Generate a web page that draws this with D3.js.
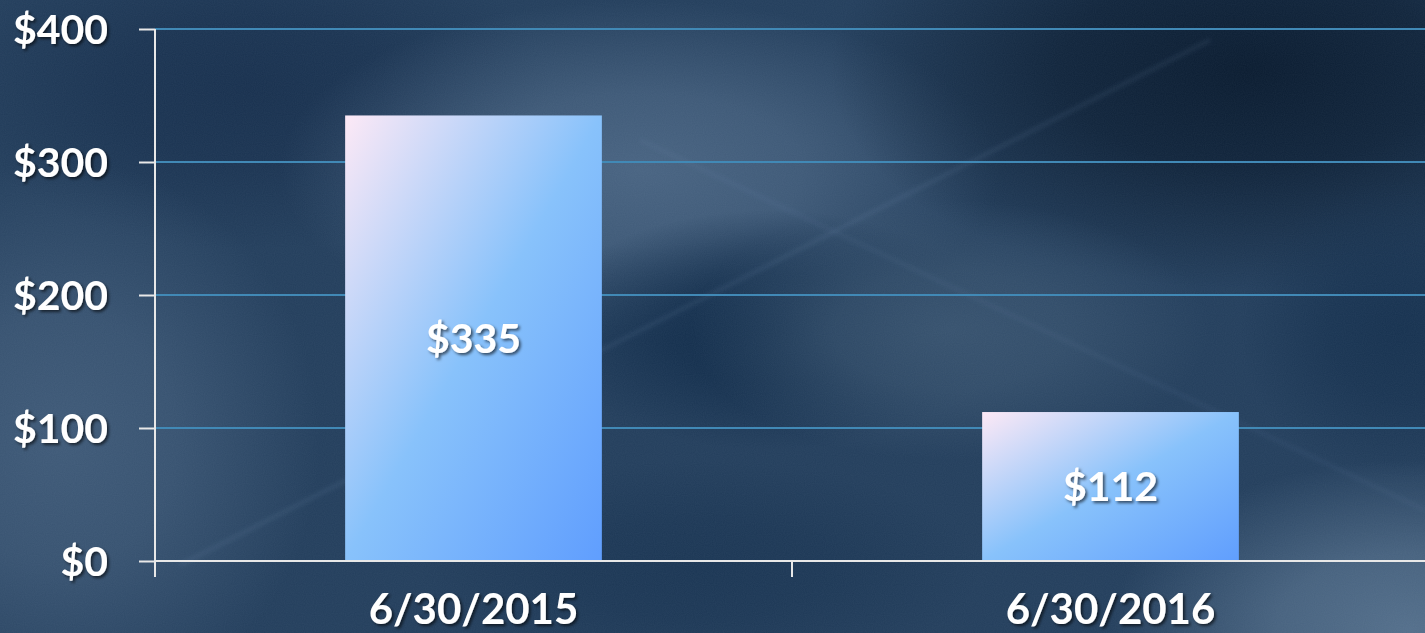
<!DOCTYPE html>
<html>
<head>
<meta charset="utf-8">
<script src="https://cdn.jsdelivr.net/npm/d3@7"></script>
<style>
  html, body { margin: 0; padding: 0; background: #233e5c; overflow: hidden; }
  svg { display: block; }
  text { font-family: Lato, "Open Sans", sans-serif; font-weight: 700; fill: #ffffff; }
</style>
</head>
<body>
<svg id="chart" width="1425" height="633"></svg>
<script>
const categories = ["6/30/2015", "6/30/2016"];
const values = [335, 112];
const yTicks = [0, 100, 200, 300, 400];

const svg = d3.select("#chart");
const width = +svg.attr("width");
const height = +svg.attr("height");
const defs = svg.append("defs");

// soft background: radial-gradient blobs (no blur, so no banding)
const blobData = [
  [250, 90, 300, 160, "#172f4d"],
  [640, 170, 360, 170, "#4a6583"],
  [60, 440, 260, 280, "#405b79"],
  [1250, 70, 420, 220, "#08192d"],
  [770, 330, 230, 120, "#0f2a48"],
  [950, 330, 260, 130, "#38536f"],
  [1400, 330, 160, 150, "#15304e"],
  [1410, 630, 300, 170, "#56718d"],
  [700, 570, 280, 110, "#1a3553"]
];
blobData.forEach((b, i) => {
  const g = defs.append("radialGradient").attr("id", "blob" + i);
  g.append("stop").attr("offset", "0%").attr("stop-color", b[4]).attr("stop-opacity", 0.95);
  g.append("stop").attr("offset", "45%").attr("stop-color", b[4]).attr("stop-opacity", 0.7);
  g.append("stop").attr("offset", "100%").attr("stop-color", b[4]).attr("stop-opacity", 0);
});

const streakBlur = defs.append("filter").attr("id", "streakblur");
streakBlur.append("feGaussianBlur").attr("stdDeviation", 2);

const noise = defs.append("filter").attr("id", "noise")
  .attr("x", 0).attr("y", 0).attr("width", "100%").attr("height", "100%");
noise.append("feTurbulence").attr("type", "fractalNoise")
  .attr("baseFrequency", 0.9).attr("numOctaves", 1).attr("seed", 4);
noise.append("feColorMatrix").attr("type", "matrix")
  .attr("values", "0 0 0 0 0.5  0 0 0 0 0.62  0 0 0 0 0.75  0 0 0 0.07 0");

const shadow = defs.append("filter").attr("id", "shadow")
  .attr("x", "-20%").attr("y", "-20%").attr("width", "140%").attr("height", "140%");
shadow.append("feDropShadow")
  .attr("dx", 2).attr("dy", 2).attr("stdDeviation", 1.5)
  .attr("flood-color", "#000").attr("flood-opacity", 0.6);

const barGrad = defs.append("linearGradient").attr("id", "bargrad")
  .attr("x1", 0).attr("y1", 0).attr("x2", 1).attr("y2", 1);
barGrad.append("stop").attr("offset", "0%").attr("stop-color", "#fde9f6");
barGrad.append("stop").attr("offset", "50%").attr("stop-color", "#88c2fb");
barGrad.append("stop").attr("offset", "100%").attr("stop-color", "#609efe");

const bg = svg.append("g");
bg.append("rect").attr("width", width).attr("height", height).attr("fill", "#233e5c");
bg.selectAll("ellipse").data(blobData).join("ellipse")
  .attr("cx", d => d[0]).attr("cy", d => d[1])
  .attr("rx", d => d[2]).attr("ry", d => d[3])
  .attr("fill", (d, i) => `url(#blob${i})`);

bg.append("rect").attr("width", width).attr("height", height)
  .attr("filter", "url(#noise)");

const streaks = bg.append("g").attr("filter", "url(#streakblur)")
  .attr("stroke", "#8fb0cf").attr("stroke-width", 4);
streaks.append("line").attr("x1", 180).attr("y1", 565).attr("x2", 1210).attr("y2", 40)
  .attr("stroke-opacity", 0.11);
streaks.append("line").attr("x1", 640).attr("y1", 140).attr("x2", 1425).attr("y2", 510)
  .attr("stroke-opacity", 0.07);

// scales
const margin = { left: 155, top: 29, bottom: 561 };
const x = d3.scaleBand().domain(categories).range([margin.left, 1429]).padding(0);
const y = d3.scaleLinear().domain([0, 400]).range([margin.bottom, margin.top]);
const barFrac = 0.403;

// gridlines
svg.append("g")
  .selectAll("line")
  .data(yTicks.filter(t => t > 0))
  .join("line")
  .attr("x1", margin.left).attr("x2", width)
  .attr("y1", d => y(d)).attr("y2", d => y(d))
  .attr("stroke", "#4189b6").attr("stroke-width", 2);

// bars
svg.append("g")
  .selectAll("rect")
  .data(values)
  .join("rect")
  .attr("x", (d, i) => x(categories[i]) + x.bandwidth() * (1 - barFrac) / 2)
  .attr("width", x.bandwidth() * barFrac)
  .attr("y", d => y(d))
  .attr("height", d => y(0) - y(d))
  .attr("fill", "url(#bargrad)");

// y axis
const yAxis = svg.append("g")
  .attr("transform", `translate(${margin.left},0)`)
  .call(d3.axisLeft(y).tickValues(yTicks).tickFormat(d => "$" + d).tickSize(16).tickPadding(31));
yAxis.select(".domain").attr("stroke", "#e8e8e8").attr("stroke-width", 2)
  .attr("d", `M0,${margin.top}V${margin.bottom + 16}`);
yAxis.selectAll(".tick line").attr("stroke", "#e8e8e8").attr("stroke-width", 2);
yAxis.selectAll(".tick text")
  .attr("font-size", 41).attr("font-family", null).attr("fill", "#fff")
  .attr("dy", "0.36em")
  .attr("filter", "url(#shadow)");

// x axis
const xAxis = svg.append("g");
xAxis.append("line")
  .attr("x1", margin.left).attr("x2", width)
  .attr("y1", y(0)).attr("y2", y(0))
  .attr("stroke", "#e8e8e8").attr("stroke-width", 2);
const bounds = categories.map(c => x(c)).concat([x(categories[categories.length - 1]) + x.step()]);
xAxis.selectAll(".xtick").data(bounds).join("line")
  .attr("class", "xtick")
  .attr("x1", d => d).attr("x2", d => d)
  .attr("y1", y(0)).attr("y2", y(0) + 16)
  .attr("stroke", "#e8e8e8").attr("stroke-width", 2);
xAxis.selectAll("text").data(categories).join("text")
  .attr("x", d => x(d) + x.bandwidth() / 2)
  .attr("y", 624)
  .attr("text-anchor", "middle")
  .attr("font-size", 42)
  .attr("filter", "url(#shadow)")
  .text(d => d);

// value labels
svg.append("g")
  .selectAll("text")
  .data(values)
  .join("text")
  .attr("x", (d, i) => x(categories[i]) + x.bandwidth() / 2)
  .attr("y", d => (y(d) + y(0)) / 2)
  .attr("dy", "0.36em")
  .attr("text-anchor", "middle")
  .attr("font-size", 41)
  .attr("filter", "url(#shadow)")
  .text(d => "$" + d);
</script>
</body>
</html>
